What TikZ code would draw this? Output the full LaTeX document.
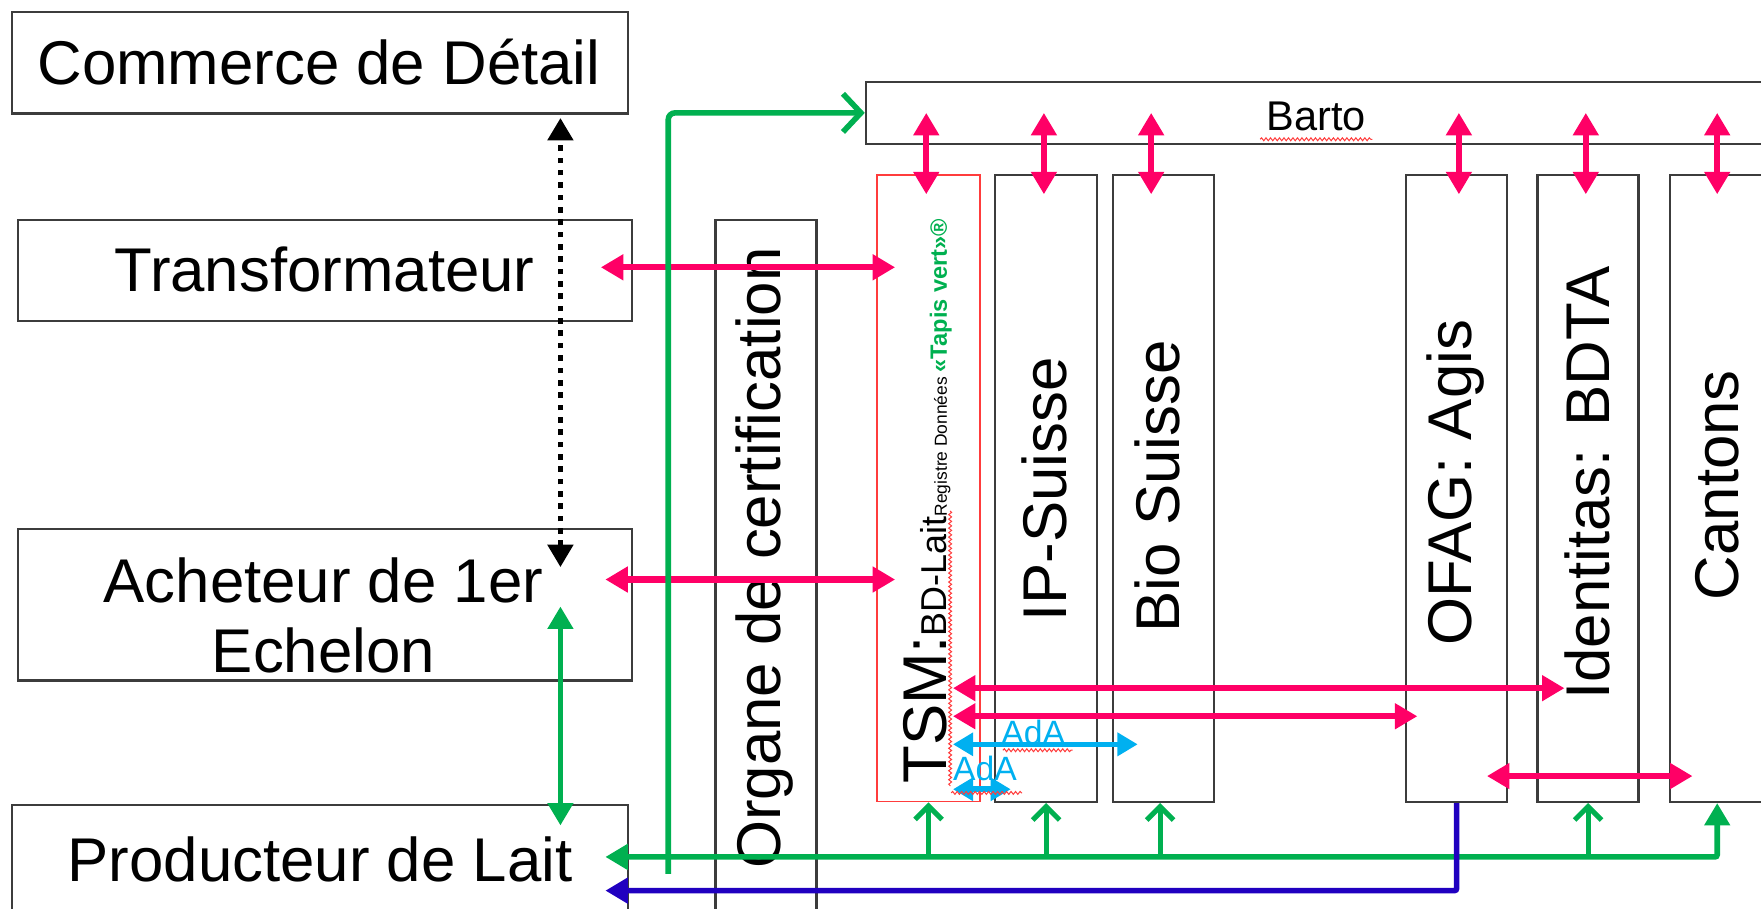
\documentclass[tikz,border=0pt]{standalone}
\usepackage{fontspec}
\setmainfont{Liberation Sans}
\usetikzlibrary{arrows.meta,decorations.pathmorphing,calc}
\definecolor{pk}{RGB}{255,0,102}
\definecolor{gn}{RGB}{0,176,80}
\definecolor{bl}{RGB}{32,0,192}
\definecolor{cy}{RGB}{0,176,240}
\definecolor{bx}{RGB}{60,60,60}
\definecolor{rd}{RGB}{255,60,60}
\begin{document}
\begin{tikzpicture}[x=1pt,y=-1pt,
  box/.style={draw=bx, line width=2pt, inner sep=0pt, anchor=north west},
  lbl/.style={font=\fontsize{55}{63}\selectfont, align=center, inner sep=0pt},
  vlbl/.style={font=\fontsize{55}{63}\selectfont, rotate=90, inner sep=0pt},
  pkarr/.style={draw=pk, line width=5.5pt, {Triangle[length=20pt,width=22pt]}-{Triangle[length=20pt,width=22pt]}},
  cyarr/.style={draw=cy, line width=5pt, {Triangle[length=18pt,width=20pt]}-{Triangle[length=18pt,width=20pt]}},
  gnopen/.style={draw=gn, line width=4.5pt, -{Straight Barb[length=12pt,width=24pt]}},
  gnfill/.style={draw=gn, line width=5pt},
  blarr/.style={draw=bl, line width=5pt, -{Triangle[length=20pt,width=22pt]}},
  dotarr/.style={draw=black, line width=5pt, dash pattern=on 5pt off 6pt, {Triangle[length=20pt,width=22pt]}-{Triangle[length=20pt,width=22pt]}},
  wavy/.style={draw=rd, line width=0.9pt, decorate, decoration={snake, amplitude=1.3pt, segment length=4pt}},
  ada/.style={text=cy, font=\fontsize{30}{30}\selectfont, inner sep=0pt}
]
\useasboundingbox (0,0) rectangle (1568,808.5);
\clip (0,0) rectangle (1568,808.5);

% left boxes
\node[box, minimum width=548pt, minimum height=90pt] (comm) at (10,10) {};
\node[lbl] (commT) at (284,55) {Commerce de Détail};
\node[box, minimum width=547pt, minimum height=90pt] (transf) at (15,195) {};
\node[lbl] (transfT) at (289,240) {Transformateur};
\node[box, minimum width=547pt, minimum height=135pt] (ach) at (15,470) {};
\node[lbl] (achT) at (288,548) {Acheteur de 1er\\Echelon};
\node[box, minimum width=548pt, minimum height=240pt] (prod) at (10,716) {};
\node[lbl] (prodT) at (285,765) {Producteur de Lait};

% organe
\node[box, minimum width=90pt, minimum height=760pt] (org) at (636,195) {};
\node[vlbl] (orgT) at (681,497) {Organe de certification};

% Barto
\node[box, minimum width=1050pt, minimum height=55pt] (barto) at (770,72) {};
\node[inner sep=0pt, font=\fontsize{37}{37}\selectfont] (bartoT) at (1172,104) {Barto};
\draw[wavy] (1122,124) -- (1222,124);

% columns
\node[box, draw=rd, line width=1.5pt, minimum width=92pt, minimum height=558pt] (tsm) at (780,155) {};
\node[box, minimum width=91pt, minimum height=558pt] (ips) at (885,155) {};
\node[box, minimum width=90pt, minimum height=558pt] (bio) at (990,155) {};
\node[box, minimum width=90pt, minimum height=558pt] (ofag) at (1251,155) {};
\node[box, minimum width=90pt, minimum height=558pt] (ident) at (1368,155) {};
\node[box, minimum width=320pt, minimum height=558pt] (cant) at (1486,155) {};

\node[rotate=90, anchor=base west, inner sep=0pt] (tsmT) at (843,698)
  {\fontsize{55}{55}\selectfont TSM:\fontsize{32}{32}\selectfont BD-Lait\fontsize{15.5}{16}\selectfont Registre Données {\color{gn}\bfseries\fontsize{21}{21}\selectfont «Tapis vert»®}};
\draw[wavy] (846,455) -- (846,700);
\node[vlbl] (ipsT) at (930,436) {IP-Suisse};
\node[vlbl] (bioT) at (1031,433) {Bio Suisse};
\node[vlbl] (ofagT) at (1296,430) {OFAG: Agis};
\node[vlbl] (identT) at (1413,430) {Identitas: BDTA};
\node[vlbl] (cantT) at (1529,432) {Cantons};

% Barto <-> columns
\foreach \c/\dx in {tsm/-2, ips/-2, bio/-11, ofag/2, ident/-2} {
  \draw[pkarr] ([xshift=\dx pt]\c.north |- barto.center) -- ([xshift=\dx pt, yshift=-18pt]\c.north);
}
\draw[pkarr] (cantT |- barto.center) -- (cantT |- 0,173);

% horizontal pink arrows
\draw[pkarr] ($(transf.east)+(-29,-3)$) -- ($(tsm.west |- transf.east)+(17,-3)$);
\draw[pkarr] ($(ach.east)+(-25,-22.5)$) -- ($(tsm.west |- ach.east)+(17,-22.5)$);
\coordinate (r1) at ($(tsm.east)+(-25,178)$);
\draw[pkarr] (r1) -- ($(ident.west |- r1)+(25,0)$);
\coordinate (r2) at ($(tsm.east)+(-25,203)$);
\draw[pkarr] (r2) -- ($(ofag.west |- r2)+(11,0)$);
\coordinate (r3) at ($(ofag.east)+(-19,256)$);
\draw[pkarr] (r3) -- ($(cant.west |- r3)+(21,0)$);

% AdA arrows
\coordinate (a1) at ($(tsm.east)+(-25,228)$);
\draw[cyarr] (a1) -- ($(bio.west |- a1)+(23,0)$);
\node[ada] (ada1) at (920,652) {AdA};
\draw[wavy] (893,668) -- (955,668);
\coordinate (a2) at ($(tsm.east)+(-25,268)$);
\draw[cyarr] (a2) -- ($(ips.west |- a2)+(15,0)$);
\node[ada] (ada2) at (877,684) {AdA};
\draw[wavy] (847,706) -- (910,706);

% green network bottom
\coordinate (gj) at (cantT |- 0,763);
\draw[gnfill, rounded corners=2pt, {Triangle[length=20pt,width=22pt]}-{Triangle[length=20pt,width=22pt]}]
  ($(prod.east |- gj)+(-21,0)$) -- (gj) -- (cantT |- cant.south);
\draw[gnopen] (tsm.south |- gj) -- (tsm.south);
\draw[gnopen] (ips.south |- gj) -- (ips.south);
\draw[gnopen] ([xshift=-3pt]bio.south |- gj) -- ([xshift=-3pt]bio.south);
\draw[gnopen] (ident.south |- gj) -- (ident.south);

% blue
\draw[blarr, rounded corners=2pt] (ofag.south) -- (ofag.south |- 0,793) -- ($(prod.east |- 0,793)+(-21,0)$);

% green to Barto
\coordinate (gs) at (595,778);
\draw[draw=gn, line width=5pt, rounded corners=6pt, -{Straight Barb[length=16pt,width=34pt]}]
  (gs) -- (gs |- barto.west) -- (barto.west);

% green Acheteur <-> Producteur
\coordinate (gx) at ($(ach.east)+(-65,0)$);
\draw[gnfill, {Triangle[length=20pt,width=22pt]}-{Triangle[length=20pt,width=22pt]}] (gx |- 0,540) -- (gx |- 0,735);

% dotted black
\draw[dotarr] (gx |- 0,505) -- ($(gx |- comm.south)+(0,3)$);
\end{tikzpicture}
\end{document}
